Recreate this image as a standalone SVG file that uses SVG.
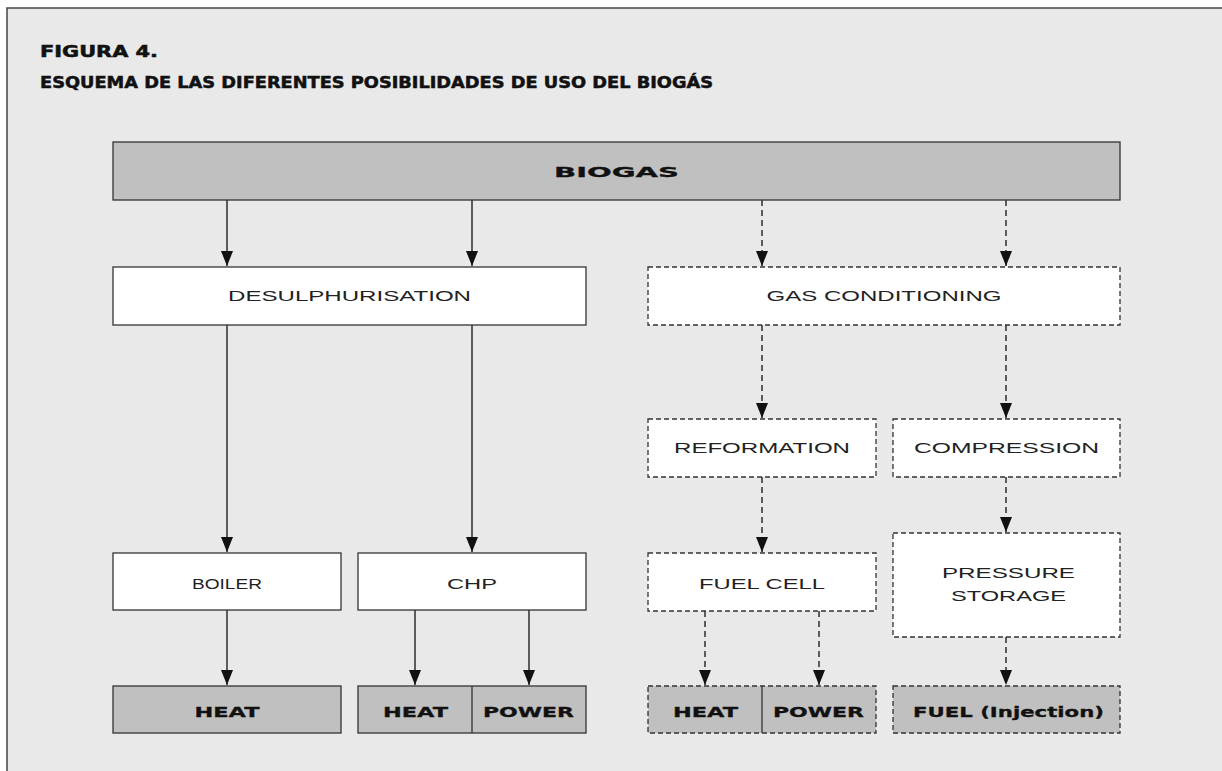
<svg xmlns="http://www.w3.org/2000/svg" width="1222" height="771" viewBox="0 0 1222 771">
<defs>
<style>
.bg{fill:#e9e9e9;stroke:#444;stroke-width:1.5}
.box{fill:#fff;stroke:#333;stroke-width:1.3}
.gray{fill:#c0c0c0;stroke:#333;stroke-width:1.3}
.dash{stroke-dasharray:5 3}
.lbl{font-family:"Liberation Sans",Arial,sans-serif;font-size:15px;fill:#222;text-anchor:middle}
.bold{font-family:"DejaVu Sans","Liberation Sans",sans-serif;font-weight:bold;font-size:14.5px;fill:#111;text-anchor:middle;stroke:#111;stroke-width:0.3}
.title{font-family:"DejaVu Sans","Liberation Sans",sans-serif;font-weight:bold;font-size:15px;fill:#111;stroke:#111;stroke-width:0.5}
.con{stroke:#111;stroke-width:1.3;fill:none}
.cd{stroke-dasharray:6 4}
</style>
<marker id="ah" viewBox="0 0 15 12" refX="15" refY="6" markerWidth="15" markerHeight="12" markerUnits="userSpaceOnUse" orient="auto">
<path d="M0,0 L15,6 L0,12 Z" fill="#111"/>
</marker>
</defs>
<rect x="7" y="8" width="1240" height="790" class="bg"/>
<g id="title">
<text class="title" x="40" y="57" textLength="118" lengthAdjust="spacingAndGlyphs">FIGURA 4.</text>
<text class="title" x="40" y="88" textLength="673" lengthAdjust="spacingAndGlyphs">ESQUEMA DE LAS DIFERENTES POSIBILIDADES DE USO DEL BIOGÁS</text>
</g>
<g id="connectors">
<line class="con" x1="227" y1="200" x2="227" y2="266" marker-end="url(#ah)"/>
<line class="con" x1="472" y1="200" x2="472" y2="266" marker-end="url(#ah)"/>
<line class="con cd" x1="762" y1="200" x2="762" y2="266" marker-end="url(#ah)"/>
<line class="con cd" x1="1006" y1="200" x2="1006" y2="266" marker-end="url(#ah)"/>
<line class="con" x1="227" y1="325" x2="227" y2="552" marker-end="url(#ah)"/>
<line class="con" x1="472" y1="325" x2="472" y2="552" marker-end="url(#ah)"/>
<line class="con cd" x1="762" y1="325" x2="762" y2="418" marker-end="url(#ah)"/>
<line class="con cd" x1="1006" y1="325" x2="1006" y2="418" marker-end="url(#ah)"/>
<line class="con cd" x1="762" y1="477" x2="762" y2="552" marker-end="url(#ah)"/>
<line class="con cd" x1="1006" y1="477" x2="1006" y2="532" marker-end="url(#ah)"/>
<line class="con" x1="227" y1="610" x2="227" y2="685" marker-end="url(#ah)"/>
<line class="con" x1="415" y1="610" x2="415" y2="685" marker-end="url(#ah)"/>
<line class="con" x1="529" y1="610" x2="529" y2="685" marker-end="url(#ah)"/>
<line class="con cd" x1="705" y1="611" x2="705" y2="685" marker-end="url(#ah)"/>
<line class="con cd" x1="819" y1="611" x2="819" y2="685" marker-end="url(#ah)"/>
<line class="con cd" x1="1006" y1="637" x2="1006" y2="685" marker-end="url(#ah)"/>
</g>
<g id="biogas">
<rect class="gray" x="113" y="142" width="1007" height="58"/>
<text class="bold" x="616.5" y="177" textLength="125" lengthAdjust="spacingAndGlyphs">BIOGAS</text>
</g>
<g id="desulph">
<rect class="box" x="113" y="267" width="473" height="58"/>
<text class="lbl" x="349.5" y="301" textLength="243" lengthAdjust="spacingAndGlyphs">DESULPHURISATION</text>
</g>
<g id="gascond">
<rect class="box dash" x="648" y="267" width="472" height="58"/>
<text class="lbl" x="884" y="301" textLength="235" lengthAdjust="spacingAndGlyphs">GAS CONDITIONING</text>
</g>
<g id="reformation">
<rect class="box dash" x="648" y="419" width="228" height="58"/>
<text class="lbl" x="762" y="453" textLength="176" lengthAdjust="spacingAndGlyphs">REFORMATION</text>
</g>
<g id="compression">
<rect class="box dash" x="893" y="419" width="227" height="58"/>
<text class="lbl" x="1006.5" y="453" textLength="185" lengthAdjust="spacingAndGlyphs">COMPRESSION</text>
</g>
<g id="boiler">
<rect class="box" x="113" y="553" width="228" height="57"/>
<text class="lbl" x="227" y="589" textLength="70" lengthAdjust="spacingAndGlyphs">BOILER</text>
</g>
<g id="chp">
<rect class="box" x="358" y="553" width="228" height="57"/>
<text class="lbl" x="472" y="589" textLength="50" lengthAdjust="spacingAndGlyphs">CHP</text>
</g>
<g id="fuelcell">
<rect class="box dash" x="648" y="553" width="228" height="58"/>
<text class="lbl" x="762" y="589" textLength="126" lengthAdjust="spacingAndGlyphs">FUEL CELL</text>
</g>
<g id="pressure">
<rect class="box dash" x="893" y="533" width="227" height="104"/>
<text class="lbl" x="1008.5" y="578" textLength="133" lengthAdjust="spacingAndGlyphs">PRESSURE</text>
<text class="lbl" x="1008.5" y="601" textLength="115" lengthAdjust="spacingAndGlyphs">STORAGE</text>
</g>
<g id="heat1">
<rect class="gray" x="113" y="686" width="228" height="47"/>
<text class="bold" x="227" y="717" textLength="65" lengthAdjust="spacingAndGlyphs">HEAT</text>
</g>
<g id="chp-out">
<rect class="gray" x="358" y="686" width="228" height="47"/>
<line x1="472" y1="686" x2="472" y2="733" stroke="#333" stroke-width="1.3"/>
<text class="bold" x="415.5" y="717" textLength="65" lengthAdjust="spacingAndGlyphs">HEAT</text>
<text class="bold" x="528.5" y="717" textLength="91" lengthAdjust="spacingAndGlyphs">POWER</text>
</g>
<g id="fc-out">
<rect class="gray dash" x="648" y="686" width="228" height="47"/>
<line x1="762" y1="686" x2="762" y2="733" stroke="#333" stroke-width="1.3"/>
<text class="bold" x="705.5" y="717" textLength="65" lengthAdjust="spacingAndGlyphs">HEAT</text>
<text class="bold" x="818.5" y="717" textLength="91" lengthAdjust="spacingAndGlyphs">POWER</text>
</g>
<g id="fuel">
<rect class="gray dash" x="893" y="686" width="227" height="47"/>
<text class="bold" x="1008.5" y="717" textLength="191" lengthAdjust="spacingAndGlyphs">FUEL (Injection)</text>
</g>
</svg>
